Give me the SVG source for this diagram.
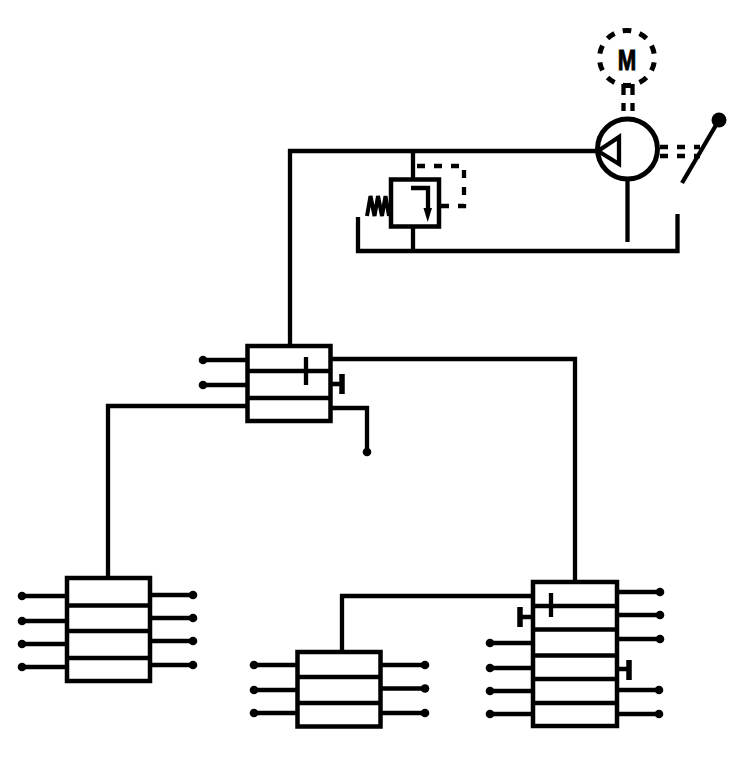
<svg xmlns="http://www.w3.org/2000/svg" width="746" height="759" viewBox="0 0 746 759">
<style>
.l{fill:none;stroke:#000;stroke-width:4.300}
.b{fill:#fff;stroke:#000;stroke-width:4.500}
.d{fill:none;stroke:#000;stroke-width:4.300;stroke-dasharray:8 9}
.t{fill:none;stroke:#000;stroke-width:5.500}
.p{fill:#000}
</style>
<defs><circle id="dot" r="4.300" class="p"/></defs>
<rect width="746" height="759" fill="#fff"/>
<g id="connectors">
<path class="l" d="M290 346V151H598"/>
<path class="l" d="M413 151V179M413 227V251"/>
<path class="l" d="M358 217V251H677.500V214"/>
<path class="l" d="M627.500 180V242"/>
<path class="l" d="M331 359H575V582"/>
<path class="l" d="M247 406H108V578"/>
<path class="l" d="M331 408H367V452"/>
<path class="l" d="M533 596H342V652"/>
<path class="d" d="M417 166H464V206H440"/>
<path class="l" d="M623.500 84V95M623.500 103V111M632.500 84V95M632.500 103V111"/>
<path class="d" d="M660 147H700M660 156H700"/>
</g>
<g id="motor">
<circle class="l" cx="627" cy="58" r="27.500" pathLength="100" style="stroke-width:5" stroke-dasharray="5 5" stroke-dashoffset="-2.500"/>
<text x="627" y="70" text-anchor="middle" font-family="Liberation Sans, sans-serif" font-size="30" font-weight="700" stroke="#000" stroke-width="1" textLength="18.500" lengthAdjust="spacingAndGlyphs">M</text>
</g>
<g id="pump">
<circle class="l" cx="627.500" cy="149" r="30" style="stroke-width:5"/>
<path class="l" d="M598 151L619 137V164Z"/>
</g>
<g id="lever">
<path class="l" d="M682 183L719 120"/>
<circle class="p" cx="719" cy="120" r="7.500"/>
</g>
<g id="relief-valve">
<rect class="b" x="391" y="179.500" width="48" height="47"/>
<path class="l" d="M411 188H428V210"/>
<path class="p" d="M423.500 208H432L427.700 222Z"/>
<path class="l" style="stroke-width:4" d="M367 216L370.500 196L374.500 216L378 196L382 216L385.500 196L389 216"/>
</g>
<g id="valve-top">
<path class="l" d="M203 360H247M203 385H247"/>
<use href="#dot" x="203" y="360"/><use href="#dot" x="203" y="385"/>
<rect class="b" x="247.500" y="346" width="83" height="75"/>
<path class="l" d="M247 371H331M247 398H331M306 357V385M331 384H342"/>
<path class="t" d="M342 374V394"/>
<use href="#dot" x="367" y="452"/>
</g>
<g id="valve-left">
<path class="l" d="M22 596H67M22 621H67M22 644H67M22 667H67M150 595H193M150 618H193M150 641H193M150 665H193"/>
<use href="#dot" x="22" y="596"/><use href="#dot" x="22" y="621"/><use href="#dot" x="22" y="644"/><use href="#dot" x="22" y="667"/>
<use href="#dot" x="193" y="595"/><use href="#dot" x="193" y="618"/><use href="#dot" x="193" y="641"/><use href="#dot" x="193" y="665"/>
<rect class="b" x="67" y="578" width="83" height="103"/>
<path class="l" d="M67 605.500H150M67 631H150M67 658H150"/>
</g>
<g id="valve-middle">
<path class="l" d="M254 665H297M254 690H297M254 713H297M381 665H425M381 688.500H425M381 713H425"/>
<use href="#dot" x="254" y="665"/><use href="#dot" x="254" y="690"/><use href="#dot" x="254" y="713"/>
<use href="#dot" x="425" y="665"/><use href="#dot" x="425" y="688.500"/><use href="#dot" x="425" y="713"/>
<rect class="b" x="297.500" y="652" width="83" height="74.500"/>
<path class="l" d="M297 677H381M297 703H381"/>
</g>
<g id="valve-right">
<path class="l" d="M490 643H533M490 668H533M490 691H533M490 714H533M617 592H660M617 615H660M617 639H660M617 690H659M617 714H659M520 617H533M617 669H629"/>
<use href="#dot" x="490" y="643"/><use href="#dot" x="490" y="668"/><use href="#dot" x="490" y="691"/><use href="#dot" x="490" y="714"/>
<use href="#dot" x="660" y="592"/><use href="#dot" x="660" y="615"/><use href="#dot" x="660" y="639"/><use href="#dot" x="659" y="690"/><use href="#dot" x="659" y="714"/>
<rect class="b" x="533" y="582" width="84" height="144"/>
<path class="l" d="M533 606H617M533 629.500H617M533 655.500H617M533 679H617M533 703H617M551 593V617"/>
<path class="t" d="M520 607V627M629 660V680"/>
</g>
</svg>
